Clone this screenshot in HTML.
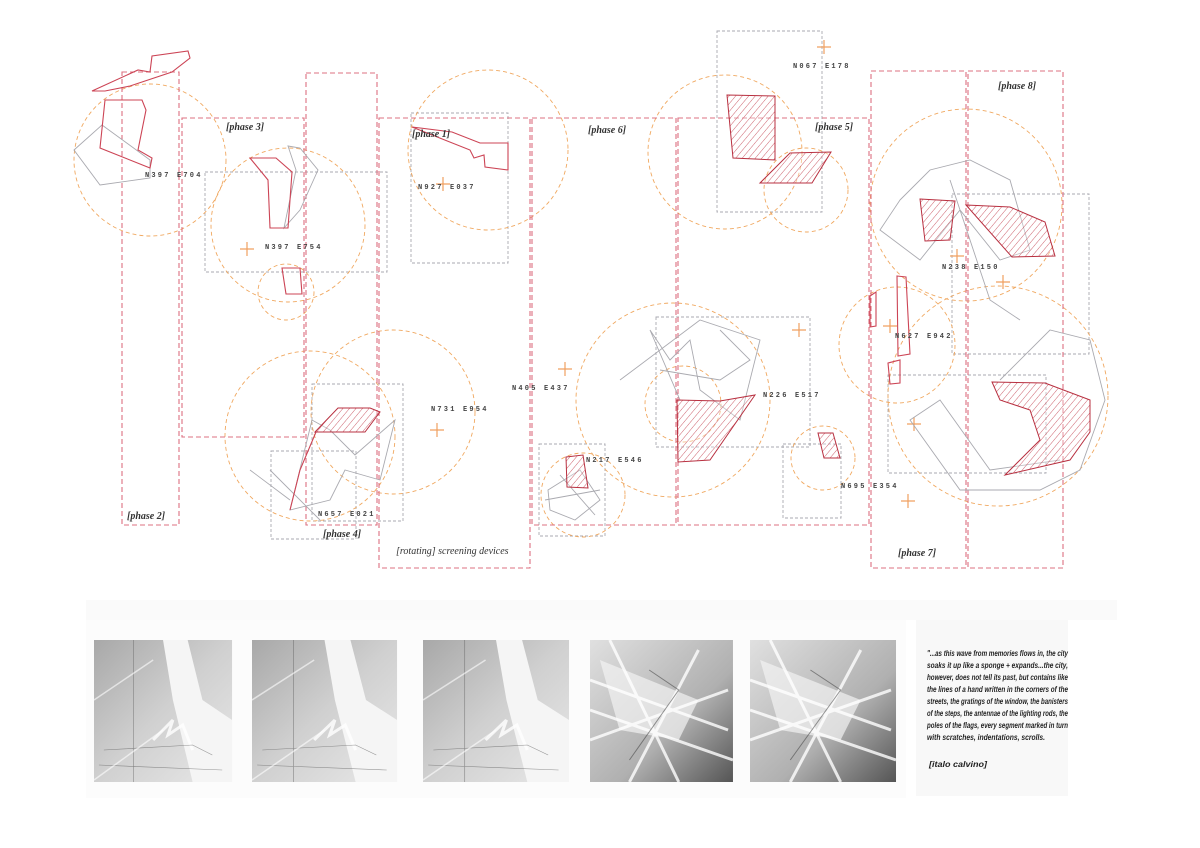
<!DOCTYPE html>
<html><head><meta charset="utf-8"><style>
html,body{margin:0;padding:0;background:#fff;width:1200px;height:848px;overflow:hidden}
svg{display:block}
.rd{fill:none;stroke:#dc7080;stroke-width:1.1;stroke-dasharray:5 3}
.gd{fill:none;stroke:#a8a8b0;stroke-width:0.9;stroke-dasharray:3 2}
.oc{fill:none;stroke:#f0a860;stroke-width:0.9;stroke-dasharray:4 3}
.cr{stroke:#f0a060;stroke-width:1.2}
.rs{fill:none;stroke:#cc4455;stroke-width:1.1}
.hs{fill:url(#h);stroke:#b83040;stroke-width:1}
.gs{fill:none;stroke:#aaaab0;stroke-width:0.9}
.lb{font-family:"Liberation Mono",monospace;font-size:7px;font-weight:bold;letter-spacing:2.2px;fill:#444}
.ph{font-family:"Liberation Serif",serif;font-size:10px;font-style:italic;font-weight:bold;fill:#333}
.q{font-family:"Liberation Sans",sans-serif;font-size:8px;font-style:italic;font-weight:bold;fill:#222}
.st{stroke:#fff;stroke-width:3;fill:none;opacity:0.8}
.sd{stroke:#555;stroke-width:0.6;fill:none;opacity:0.6}
</style></head><body>
<svg width="1200" height="848" viewBox="0 0 1200 848" xmlns="http://www.w3.org/2000/svg">
<defs>
<pattern id="h" width="5" height="5" patternUnits="userSpaceOnUse" patternTransform="rotate(40)">
<rect width="5" height="5" fill="#fff" fill-opacity="0.3"/><line x1="0" y1="0" x2="0" y2="5" stroke="#c03848" stroke-width="0.8"/>
</pattern>
<linearGradient id="g1" x1="0" y1="0" x2="1" y2="1"><stop offset="0" stop-color="#a8a8a8"/><stop offset="0.5" stop-color="#d0d0d0"/><stop offset="1" stop-color="#e8e8e8"/></linearGradient>
<linearGradient id="g2" x1="0" y1="0" x2="1" y2="1"><stop offset="0" stop-color="#e0e0e0"/><stop offset="0.6" stop-color="#b0b0b0"/><stop offset="1" stop-color="#555"/></linearGradient>
<g id="imA">
<rect x="0" y="0" width="140" height="142" fill="url(#g1)"/>
<path d="M70 0 L95 0 L110 60 L140 80 L140 142 L100 142 L80 60 Z" fill="#f5f5f5"/>
<path d="M60 100 L80 80 L75 95 L90 85 L100 110" class="st"/>
<path d="M10 110 L100 105 L120 115 M5 125 L130 130 M40 0 L40 142" class="sd"/>
<path d="M0 60 L60 20 M0 140 L70 90" stroke="#fff" stroke-width="1.5" opacity="0.6"/>
</g>
<g id="imB">
<rect x="0" y="0" width="145" height="142" fill="url(#g2)"/>
<path d="M10 20 L110 60 L90 100 L30 90 Z" fill="#f2f2f2" opacity="0.7"/>
<path d="M0 40 L140 90 M20 0 L90 142 M0 100 L140 50 M40 142 L110 10 M0 70 L145 120" class="st"/>
<path d="M60 30 L90 50 L40 120" stroke="#333" stroke-width="1" fill="none" opacity="0.5"/>
</g>
</defs>

<!-- gray dashed rects -->
<rect class="gd" x="205" y="172" width="182" height="100"/>
<rect class="gd" x="411" y="113" width="97" height="150"/>
<rect class="gd" x="717" y="31" width="105" height="181"/>
<rect class="gd" x="656" y="317" width="154" height="130"/>
<rect class="gd" x="539" y="444" width="66" height="92"/>
<rect class="gd" x="271" y="451" width="85" height="88"/>
<rect class="gd" x="312" y="384" width="91" height="137"/>
<rect class="gd" x="783" y="444" width="58" height="74"/>
<rect class="gd" x="952" y="194" width="137" height="160"/>
<rect class="gd" x="888" y="375" width="158" height="98"/>

<!-- orange circles -->
<circle class="oc" cx="150" cy="160" r="76"/>
<circle class="oc" cx="288" cy="225" r="77"/>
<circle class="oc" cx="286" cy="292" r="28"/>
<circle class="oc" cx="488" cy="150" r="80"/>
<circle class="oc" cx="725" cy="152" r="77"/>
<circle class="oc" cx="806" cy="190" r="42"/>
<circle class="oc" cx="966" cy="205" r="96"/>
<circle class="oc" cx="310" cy="436" r="85"/>
<circle class="oc" cx="393" cy="412" r="82"/>
<circle class="oc" cx="673" cy="400" r="97"/>
<circle class="oc" cx="683" cy="404" r="38"/>
<circle class="oc" cx="823" cy="458" r="32"/>
<circle class="oc" cx="897" cy="345" r="58"/>
<circle class="oc" cx="998" cy="396" r="110"/>
<circle class="oc" cx="583" cy="495" r="42"/>

<!-- red dashed rects -->
<rect class="rd" x="122" y="72" width="57" height="453"/>
<rect class="rd" x="182" y="118" width="122" height="319"/>
<rect class="rd" x="306" y="73" width="71" height="452"/>
<rect class="rd" x="379" y="118" width="151" height="450"/>
<rect class="rd" x="532" y="118" width="144" height="407"/>
<rect class="rd" x="678" y="118" width="191" height="407"/>
<rect class="rd" x="871" y="71" width="95" height="497"/>
<rect class="rd" x="968" y="71" width="95" height="497"/>

<!-- crosses -->
<g class="cr">
<path d="M240 249h14M247 242v14M436 184h14M443 177v14M430 430h14M437 423v14M558 369h14M565 362v14M817 47h14M824 40v14M792 330h14M799 323v14M883 326h14M890 319v14M950 256h14M957 249v14M996 282h14M1003 275v14M907 424h14M914 417v14M901 501h14M908 494v14"/>
</g>

<!-- gray sketch lines -->
<g class="gs">
<path d="M74 150 L102 125 L150 160 L150 178 L100 185 Z"/>
<path d="M288 146 L300 148 L318 170 L300 210 L284 228 L296 170 Z"/>
<path d="M620 380 L700 320 L760 340 L740 420 L700 390 L690 340 L670 360 L650 330 L680 400 M660 370 L720 380 L750 360 L720 330"/>
<path d="M312 420 L290 510 L330 500 L345 470 L380 480 L395 420 L355 455 L330 430 Z M290 500 L250 470 M270 470 L320 520"/>
<path d="M548 490 L580 470 L600 500 L575 520 L550 510 Z M560 475 L595 515 M545 500 L600 490"/>
<path d="M900 200 L930 170 L970 160 L1010 180 L1030 250 L1000 260 L960 210 L920 260 L880 230 Z M950 180 L990 300 L1020 320"/>
<path d="M1000 380 L1050 330 L1090 340 L1105 400 L1080 470 L1040 490 L960 490 L910 420 L940 400 L990 470 L1060 460"/>
</g>

<!-- red outline shapes -->
<g class="rs">
<path d="M92 91 L138 70 L150 72 L152 56 L188 51 L190 58 L172 72 L130 86 L105 91 Z"/>
<path d="M105 100 L142 100 L146 110 L138 150 L152 158 L150 168 L100 148 Z"/>
<path d="M250 158 L276 158 L292 172 L288 228 L270 228 L268 180 Z"/>
<path d="M282 268 L300 268 L302 294 L286 294 Z"/>
<path d="M412 127 L452 132 L480 143 L508 143 L508 170 L485 167 L484 155 L474 158 L470 150 Z"/>
<path d="M897 276 L906 277 L910 354 L898 356 Z"/>
<path d="M870 296 L876 292 L876 326 L870 327 Z"/>
<path d="M888 363 L900 360 L900 383 L890 384 Z"/>
<path d="M290 510 L300 470 L316 432"/>
</g>

<!-- hatched red shapes -->
<path class="hs" d="M727 95 L775 96 L775 160 L733 158 Z"/>
<path class="hs" d="M760 183 L790 153 L831 152 L812 183 Z"/>
<path class="hs" d="M920 199 L955 201 L950 240 L925 241 Z"/>
<path class="hs" d="M966 205 L1010 207 L1045 222 L1055 256 L1012 257 Z"/>
<path class="hs" d="M992 382 L1045 383 L1090 400 L1090 432 L1070 460 L1005 475 L1040 440 L1030 410 L1000 400 Z"/>
<path class="hs" d="M315 432 L338 408 L370 408 L380 412 L365 432 Z"/>
<path class="hs" d="M677 400 L720 401 L755 395 L710 460 L678 462 Z"/>
<path class="hs" d="M566 457 L583 455 L588 488 L567 487 Z"/>
<path class="hs" d="M818 433 L833 433 L840 458 L824 458 Z"/>

<!-- labels -->
<text class="lb" x="145" y="177">N397 E704</text>
<text class="lb" x="265" y="249">N397 E754</text>
<text class="lb" x="418" y="189">N927 E037</text>
<text class="lb" x="793" y="68">N067 E178</text>
<text class="lb" x="942" y="269">N238 E150</text>
<text class="lb" x="895" y="338">N627 E942</text>
<text class="lb" x="512" y="390">N405 E437</text>
<text class="lb" x="431" y="411">N731 E954</text>
<text class="lb" x="763" y="397">N226 E517</text>
<text class="lb" x="586" y="462">N217 E546</text>
<text class="lb" x="841" y="488">N695 E354</text>
<text class="lb" x="318" y="516">N657 E021</text>

<text class="ph" x="226" y="130">[phase 3]</text>
<text class="ph" x="412" y="137">[phase 1]</text>
<text class="ph" x="588" y="133">[phase 6]</text>
<text class="ph" x="815" y="130">[phase 5]</text>
<text class="ph" x="998" y="89">[phase 8]</text>
<text class="ph" x="127" y="519">[phase 2]</text>
<text class="ph" x="323" y="537">[phase 4]</text>
<text class="ph" x="898" y="556">[phase 7]</text>
<text class="ph" x="396" y="554" style="font-weight:normal">[rotating] screening devices</text>

<!-- bottom panel -->
<rect x="86" y="600" width="1031" height="20" fill="#fafafa"/>
<rect x="86" y="620" width="820" height="178" fill="#fcfcfc"/>
<rect x="916" y="620" width="152" height="176" fill="#f8f8f8"/>
<use href="#imA" transform="translate(94,640) scale(0.986,1)"/>
<use href="#imA" transform="translate(252,640) scale(1.036,1)"/>
<use href="#imA" transform="translate(423,640) scale(1.043,1)"/>
<use href="#imB" transform="translate(590,640) scale(0.986,1)"/>
<use href="#imB" transform="translate(750,640) scale(1.007,1)"/>
<g class="q">
<text x="927" y="656" textLength="141" lengthAdjust="spacingAndGlyphs">"...as this wave from memories flows in, the city</text>
<text x="927" y="668" textLength="141" lengthAdjust="spacingAndGlyphs">soaks it up like a sponge + expands...the city,</text>
<text x="927" y="680" textLength="141" lengthAdjust="spacingAndGlyphs">however, does not tell its past, but contains like</text>
<text x="927" y="692" textLength="141" lengthAdjust="spacingAndGlyphs">the lines of a hand written in the corners of the</text>
<text x="927" y="704" textLength="141" lengthAdjust="spacingAndGlyphs">streets, the gratings of the window, the banisters</text>
<text x="927" y="716" textLength="141" lengthAdjust="spacingAndGlyphs">of the steps, the antennae of the lighting rods, the</text>
<text x="927" y="728" textLength="141" lengthAdjust="spacingAndGlyphs">poles of the flags, every segment marked in turn</text>
<text x="927" y="740" textLength="118" lengthAdjust="spacingAndGlyphs">with scratches, indentations, scrolls.</text>
<text x="929" y="767" textLength="58" lengthAdjust="spacingAndGlyphs">[italo calvino]</text>
</g>
</svg>
</body></html>
